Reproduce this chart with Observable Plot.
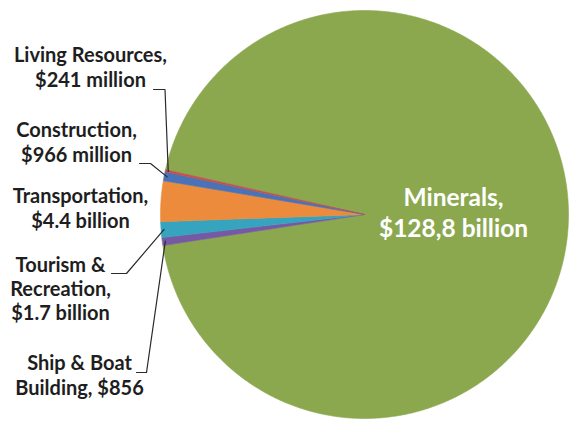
<!DOCTYPE html>
<html><head><meta charset="utf-8">
<script src="https://cdn.jsdelivr.net/npm/d3@7"></script>
<script src="https://cdn.jsdelivr.net/npm/@observablehq/plot@0.6"></script>
<style>html,body{margin:0;padding:0;background:#fff;}</style>
</head><body><div id="chart"></div>
<script>
// ---- data ----
const categories = ["Minerals", "Ship & Boat Building", "Tourism & Recreation", "Transportation", "Construction", "Living Resources"];
const valuesBillion = [128.8, 0.856, 1.7, 4.4, 0.966, 0.241];
const labelLines = [
  ["Minerals,", "$128,8 billion"],
  ["Ship & Boat", "Building, $856"],
  ["Tourism &", "Recreation,", "$1.7 billion"],
  ["Transportation,", "$4.4 billion"],
  ["Construction,", "$966 million"],
  ["Living Resources,", "$241 million"]
];
const colors = ["#8BA84F", "#7659A4", "#36A3BF", "#EC8B3B", "#4A72B6", "#C0504D"];

// ---- layout (pixels) ----
const W = 569, H = 421, CX = 364, CY = 214, R = 204;
const startDeg = -77.3;
const labelLayout = [
  {x: 453, base: [206, 237], inside: true},
  {x: 79, base: [370, 395]},
  {x: 60, base: [272, 296, 320]},
  {x: 80, base: [203, 228]},
  {x: 76, base: [137, 162]},
  {x: 90, base: [62, 87]}
];
const insideFont = 24.5, outsideFont = 20;
// leader elbows: [text end, elbow]; endpoint computed from slice
const leaderLayout = [
  null,
  [[136, 372], [146, 372]],
  [[111, 273], [126, 273]],
  null,
  [[139, 163], [150, 163]],
  [[153, 89], [164.5, 89]]
];

const ux = px => (px - CX) / R;
const uy = py => (py - CY) / R;

const pie = d3.pie().sort(null).value(d => d.value)
  .startAngle(startDeg * Math.PI / 180)
  .endAngle((startDeg + 360) * Math.PI / 180);
const slices = pie(categories.map((name, i) => ({name, value: valuesBillion[i]})));

const arcPts = [];
slices.forEach(s => {
  const name = s.data.name;
  arcPts.push({name, x: 0, y: 0});
  const n = Math.max(3, Math.ceil((s.endAngle - s.startAngle) / (0.4 * Math.PI / 180)));
  for (let k = 0; k <= n; k++) {
    const a = s.startAngle + (s.endAngle - s.startAngle) * k / n;
    arcPts.push({name, x: Math.sin(a), y: -Math.cos(a)});
  }
  arcPts.push({name, x: 0, y: 0});
});

const insideRows = [], outsideRows = [];
labelLines.forEach((lines, i) => {
  const L = labelLayout[i];
  const fs = L.inside ? insideFont : outsideFont;
  lines.forEach((t, j) => {
    (L.inside ? insideRows : outsideRows).push({text: t, x: ux(L.x), y: uy(L.base[j] - 0.33 * fs)});
  });
});

const leaderPts = [];
slices.forEach((s, i) => {
  const L = leaderLayout[i];
  if (!L) return;
  const name = s.data.name;
  L.forEach(([px, py]) => leaderPts.push({name, x: ux(px), y: uy(py)}));
  const mid = (s.startAngle + s.endAngle) / 2;
  leaderPts.push({name, x: 0.985 * Math.sin(mid), y: -0.985 * Math.cos(mid)});
});

const chart = Plot.plot({
  width: W, height: H,
  margin: 0,
  style: {fontFamily: "Lato, 'Open Sans', sans-serif", background: "#fff"},
  x: {domain: [ux(0), ux(W)], range: [0, W], axis: null},
  y: {domain: [uy(0), uy(H)], range: [0, H], axis: null},
  color: {type: "ordinal", domain: categories, range: colors},
  marks: [
    Plot.line(arcPts, {x: "x", y: "y", z: "name", fill: "name", stroke: "name", strokeWidth: 0.6, curve: "linear"}),
    Plot.line(leaderPts, {x: "x", y: "y", z: "name", stroke: "#2a2a2a", strokeWidth: 1.2, curve: "linear"}),
    Plot.text(insideRows, {x: "x", y: "y", text: "text", fill: "#ffffff", fontSize: insideFont, fontWeight: "bold",
      textAnchor: "middle", lineAnchor: "middle", letterSpacing: 0.4}),
    Plot.text(outsideRows, {x: "x", y: "y", text: "text", fill: "#1e1e1e", fontSize: outsideFont, fontWeight: "bold",
      textAnchor: "middle", lineAnchor: "middle", letterSpacing: 0.2})
  ]
});
document.getElementById("chart").appendChild(chart);
</script>
</body></html>
